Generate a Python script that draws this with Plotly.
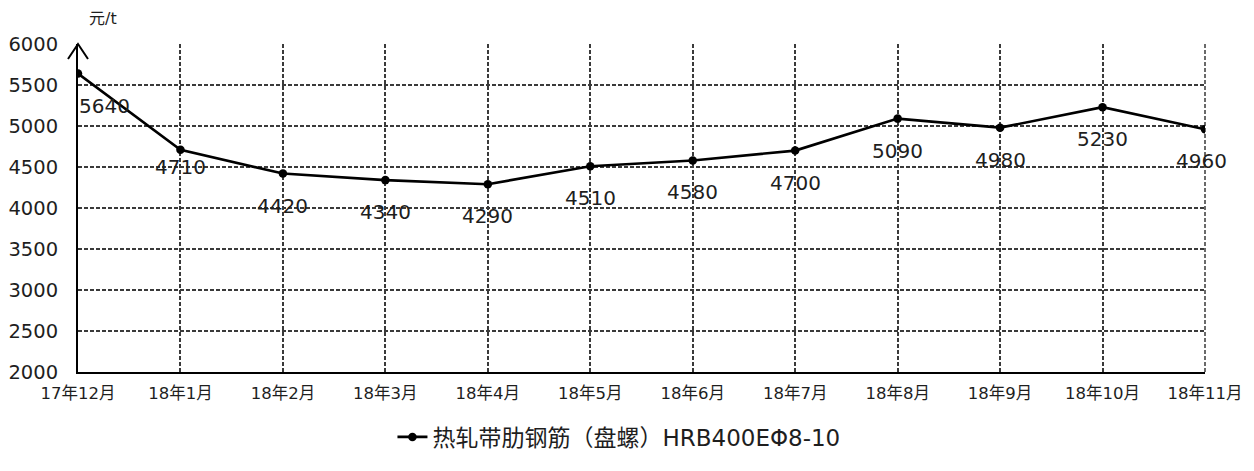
import plotly.graph_objects as go

months = ["17年12月", "18年1月", "18年2月", "18年3月", "18年4月", "18年5月",
          "18年6月", "18年7月", "18年8月", "18年9月", "18年10月", "18年11月"]
prices = [5640, 4710, 4420, 4340, 4290, 4510, 4580, 4700, 5090, 4980, 5230, 4960]
series_name = "热轧带肋钢筋（盘螺）HRB400EΦ8-10"
y_ticks = [2000, 2500, 3000, 3500, 4000, 4500, 5000, 5500, 6000]
y_unit = "元/t"

xs = list(range(len(months)))
font_family = "DejaVu Sans, Noto Sans CJK SC, sans-serif"
txt_color = "#1e1e1e"
grid_color = "#3a3a3a"

fig = go.Figure()
fig.add_trace(go.Scatter(
    x=xs, y=prices, mode="lines+markers", name=series_name,
    line=dict(color="#000000", width=2.6),
    marker=dict(color="#000000", size=8.5, symbol="circle"),
))

label_shift = {1: -17}
label_xshift = {0: 26, 11: -4}
annotations = []
for i, v in enumerate(prices):
    annotations.append(dict(
        x=xs[i], y=v, xref="x", yref="y", text=str(v), showarrow=False,
        yshift=label_shift.get(i, -32), xshift=label_xshift.get(i, 0),
        font=dict(size=20, color=txt_color, family=font_family),
    ))

annotations.append(dict(
    x=0, y=6000, xref="x", yref="y", text=y_unit, showarrow=False,
    xshift=25, yshift=26, font=dict(size=16, color=txt_color, family=font_family),
))

shapes = [
    # open arrow head on top of the value axis (paper refs so it is not clipped)
    dict(type="path", xref="paper", yref="paper", xsizemode="pixel", ysizemode="pixel",
         xanchor=0, yanchor=1, path="M-10,-15 L0,0 L10,-15",
         line=dict(color="#000000", width=2), layer="above"),
    # dashed right border of the plot area
    dict(type="line", xref="paper", yref="paper", x0=1, x1=1, y0=0, y1=1,
         line=dict(color=grid_color, width=1.5, dash="4px,2px"), layer="below"),
]

fig.update_layout(
    width=1254, height=471,
    margin=dict(l=70, r=57, t=36, b=107),
    paper_bgcolor="white", plot_bgcolor="white",
    font=dict(family=font_family, color=txt_color),
    showlegend=True,
    legend=dict(orientation="h", x=0.48, xanchor="center", y=-0.198, yanchor="middle",
                font=dict(size=23, color=txt_color, family=font_family)),
    annotations=annotations,
    shapes=shapes,
    xaxis=dict(
        range=[0, 11], tickmode="array", tickvals=xs, ticktext=months,
        showgrid=True, gridcolor=grid_color, griddash="4px,2px", gridwidth=1.5,
        showline=True, linecolor="#000000", linewidth=2,
        zeroline=False, ticks="", tickfont=dict(size=16.5, color=txt_color),
        ticklabelstandoff=5, automargin=False,
    ),
    yaxis=dict(
        range=[2000, 6000], tickmode="array", tickvals=y_ticks,
        showgrid=True, gridcolor=grid_color, griddash="4px,2px", gridwidth=1.5,
        showline=True, linecolor="#000000", linewidth=2, mirror=False,
        zeroline=False, ticks="",
        tickfont=dict(size=19.5, color=txt_color), ticklabelstandoff=14,
        automargin=False,
    ),
)

fig.write_html("out.html")
